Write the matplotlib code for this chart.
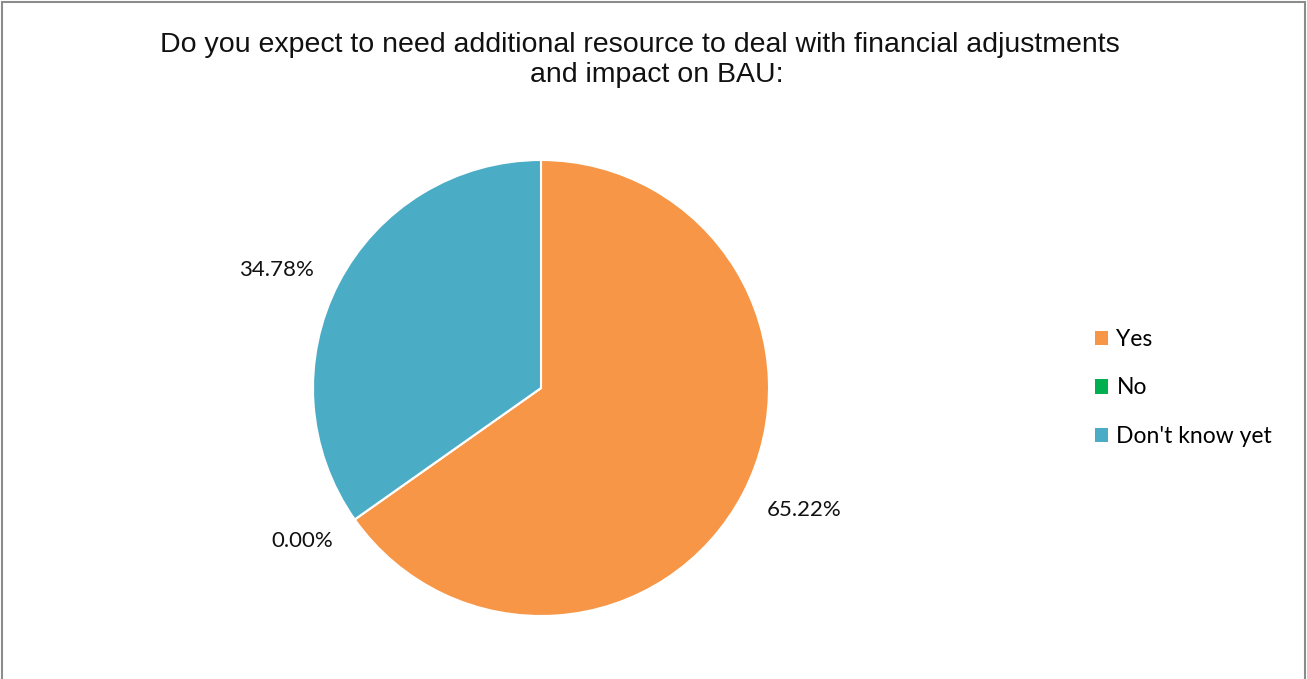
import matplotlib
matplotlib.use("Agg")
import matplotlib.pyplot as plt
from matplotlib.patches import Rectangle

categories = ["Yes", "No", "Don't know yet"]
values = [65.22, 0.00, 34.78]
colors = ["#F79646", "#00B050", "#4BACC6"]
title_lines = ["Do you expect to need additional resource to deal with financial adjustments",
               "and impact on BAU:"]
# data-label anchor points (in pie radius units), as placed in the reference
label_pos = [(1.154, -0.535), (-1.048, -0.671), (-1.162, 0.518)]

W, H = 1307, 679
fig = plt.figure(figsize=(W / 100, H / 100), dpi=100)
fig.patch.set_facecolor("white")

# border
fig.patches.append(Rectangle((1.5 / W, -0.01), (W - 3.5) / W, 1 - 1.5 / H + 0.01,
                             transform=fig.transFigure, fill=False,
                             edgecolor="#8C8C8C", linewidth=1.5))

# pie axes
cx, cy, r = 541, 388, 228
ax = fig.add_axes([(cx - r) / W, (H - cy - r) / H, 2 * r / W, 2 * r / H])
wedges, texts, autotexts = ax.pie(
    values, colors=colors, startangle=90, counterclock=False,
    autopct=lambda p: f"{p:.2f}%", pctdistance=1.27,
    wedgeprops=dict(edgecolor="white", linewidth=1.5),
    textprops=dict(fontsize=16, family=["Lato", "DejaVu Sans"], color="#111111"))
for t, p in zip(autotexts, label_pos):
    t.set_position(p)
ax.set_xlim(-1, 1)
ax.set_ylim(-1, 1)
ax.set_aspect("equal")
ax.axis("off")

# title
fig.text(640 / W, 1 - 45 / H, title_lines[0], ha="center", va="center",
         fontsize=20.5, family=["Liberation Sans", "DejaVu Sans"], color="#111111")
fig.text(657 / W, 1 - 75 / H, title_lines[1], ha="center", va="center",
         fontsize=20.5, family=["Liberation Sans", "DejaVu Sans"], color="#111111")

# legend
handles = [Rectangle((0, 0), 1, 1, facecolor=c, edgecolor="none") for c in colors]
leg = fig.legend(handles, categories, loc="center left",
                 bbox_to_anchor=(1074 / W, 1 - 388 / H), frameon=False,
                 prop=dict(family=["Lato", "DejaVu Sans"], size=16.5),
                 handlelength=0.6, handleheight=0.6, handletextpad=0.35,
                 labelspacing=1.2)

fig.savefig("out.png", dpi=100, facecolor="white")
